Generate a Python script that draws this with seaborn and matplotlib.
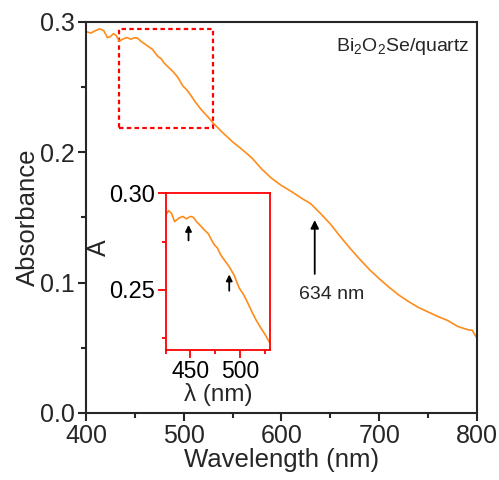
import numpy as np
import pandas as pd
import matplotlib
matplotlib.use('Agg')
import matplotlib.pyplot as plt
import seaborn as sns
from matplotlib.patches import Rectangle
from matplotlib.ticker import MultipleLocator, FormatStrFormatter

# absorbance spectrum
wavelength = [400, 405, 410, 414, 418, 422, 425, 428, 431, 434, 438, 442, 446, 450,
              453, 456, 460, 464, 468, 471, 474, 477, 480, 484, 489, 494, 499, 503,
              507, 512, 516, 520, 525, 530, 540, 550, 560, 570, 580, 590, 600, 610,
              620, 630, 640, 650, 660, 670, 680, 690, 700, 710, 720, 730, 740, 750,
              760, 770, 780, 790, 795, 800]
absorbance = [0.2926, 0.2915, 0.2935, 0.2947, 0.2935, 0.2880, 0.2888, 0.2910, 0.2895,
              0.2853, 0.2870, 0.2880, 0.2868, 0.2880, 0.2875, 0.2853, 0.2832, 0.2810,
              0.2790, 0.2760, 0.2733, 0.2718, 0.2685, 0.2655, 0.2620, 0.2575, 0.2510,
              0.2480, 0.2440, 0.2385, 0.2345, 0.2310, 0.2270, 0.2225, 0.2150, 0.2080,
              0.2020, 0.1955, 0.1870, 0.1800, 0.1745, 0.1700, 0.1650, 0.1605, 0.1530,
              0.1450, 0.1355, 0.1265, 0.1180, 0.1100, 0.1030, 0.0965, 0.0905, 0.0855,
              0.0810, 0.0775, 0.0740, 0.0710, 0.0665, 0.0640, 0.0635, 0.0575]

# zoom window and marked features
zoom_x = (434, 530)
zoom_y = (0.219, 0.295)
main_mark = 634
inset_marks = [448, 489]

df = pd.DataFrame({'wl': wavelength, 'A': absorbance})

sns.set_style('ticks')
plt.rcParams['font.family'] = ['Liberation Sans', 'DejaVu Sans']
plt.rcParams['mathtext.fontset'] = 'custom'
plt.rcParams['mathtext.rm'] = 'Liberation Sans'

orange = '#FF8C1A'

fig = plt.figure(figsize=(4.99, 4.80), dpi=100)
ax = fig.add_axes([0.1723, 0.1396, 0.7836, 0.8146])
sns.lineplot(data=df, x='wl', y='A', ax=ax, color=orange, lw=1.2)
ax.set_xlim(400, 800)
ax.set_ylim(0, 0.3)
ax.xaxis.set_major_locator(MultipleLocator(100))
ax.xaxis.set_minor_locator(MultipleLocator(50))
ax.yaxis.set_major_locator(MultipleLocator(0.1))
ax.yaxis.set_minor_locator(MultipleLocator(0.05))
ax.yaxis.set_major_formatter(FormatStrFormatter('%.1f'))
ax.tick_params(which='major', length=6, width=1.5, labelsize=18, direction='out', pad=2)
ax.tick_params(which='minor', length=3.5, width=1.5, direction='out')
for s in ax.spines.values():
    s.set_linewidth(1.5)
    s.set_visible(True)
ax.set_xlabel('Wavelength (nm)', fontsize=18.5, labelpad=0)
ax.set_ylabel('Absorbance', fontsize=18.5, labelpad=0)

ax.add_patch(Rectangle((zoom_x[0], zoom_y[0]), zoom_x[1] - zoom_x[0], zoom_y[1] - zoom_y[0],
                       fill=False, ec='red', lw=1.6, ls=(0, (2, 1.5))))

ax.annotate('', xy=(main_mark, 0.1480), xytext=(main_mark, 0.1067),
            arrowprops=dict(arrowstyle='-|>', color='black', lw=1.3,
                            mutation_scale=12, shrinkA=0, shrinkB=0))
ax.text(618, 0.0906, f'{main_mark} nm', fontsize=14, ha='left', va='center')
ax.text(0.98, 0.965, r'Bi$_2$O$_2$Se/quartz', transform=ax.transAxes,
        fontsize=14, ha='right', va='top')

# inset
ins = fig.add_axes([0.332, 0.271, 0.209, 0.3265])
sns.lineplot(data=df, x='wl', y='A', ax=ins, color=orange, lw=1.2)
ins.set_xlim(425, 530)
ins.set_ylim(0.219, 0.30)
ins.xaxis.set_major_locator(MultipleLocator(50))
ins.xaxis.set_minor_locator(MultipleLocator(25))
ins.yaxis.set_major_locator(MultipleLocator(0.05))
ins.yaxis.set_minor_locator(MultipleLocator(0.025))
ins.yaxis.set_major_formatter(FormatStrFormatter('%.2f'))
ins.tick_params(which='major', length=5.5, width=1.3, colors='red', labelcolor='black',
                labelsize=17, pad=2)
ins.tick_params(axis='x', labelsize=16.5, pad=1.5)
ins.tick_params(which='minor', length=3, width=1.3, colors='red')
for s in ins.spines.values():
    s.set_color('red')
    s.set_linewidth(1.3)
ins.set_xlabel('λ (nm)', fontsize=17.5, labelpad=0)
ins.set_ylabel('A', fontsize=18)
ins.yaxis.set_label_coords(-0.52, 0.65)

for m, a0, a1 in zip(inset_marks, [0.2756, 0.2496], [0.2836, 0.2580]):
    ins.annotate('', xy=(m, a1), xytext=(m, a0),
                 arrowprops=dict(arrowstyle='-|>', color='black', lw=1.3,
                                 mutation_scale=9, shrinkA=0, shrinkB=0))

fig.savefig('out.png', dpi=100)
